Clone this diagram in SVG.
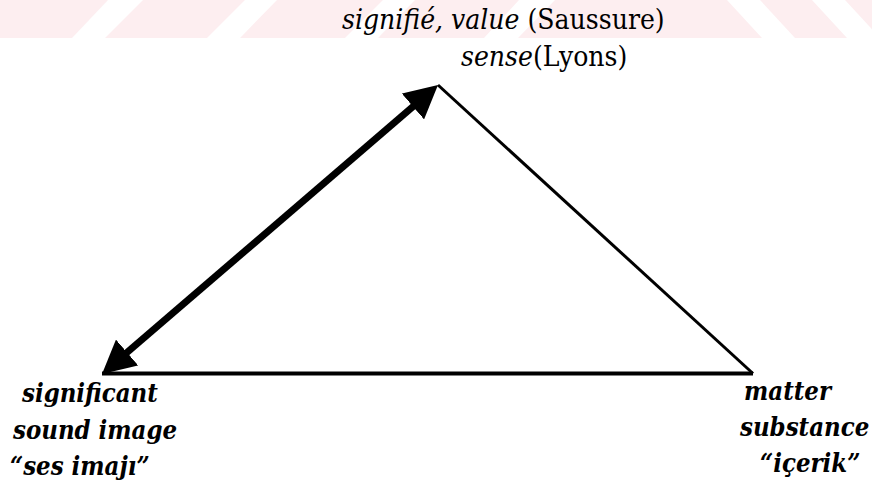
<svg xmlns="http://www.w3.org/2000/svg" width="872" height="487" viewBox="0 0 872 487">
  <style>
    .wm { fill: #fdeef0; }
    .edge { stroke: #000; fill: none; }
    .lbl { font-family: 'DejaVu Serif Condensed', 'DejaVu Serif', serif; fill: #000; }
    .top { font-size: 28px; }
    .bot { font-size: 25.5px; font-style: italic; font-weight: bold; }
    .it { font-style: italic; }
  </style>
  <defs>
    <marker id="head" markerUnits="userSpaceOnUse" viewBox="0 0 33 34" markerWidth="33" markerHeight="34" refX="18" refY="17" orient="auto-start-reverse">
      <path d="M0,0 L33,17 L0,34 Z" fill="#000"/>
    </marker>
  </defs>
  <rect width="872" height="487" fill="#fff"/>
  <g id="watermark">
    <rect class="wm" x="0" y="0" width="872" height="38"/>
    <g fill="#fff">
      <polygon points="108,0 143,0 105,38 72,38"/>
      <polygon points="245,0 277,0 240,38 207,38"/>
      <polygon points="383,0 415,0 378,38 345,38"/>
      <polygon points="519,0 555,0 518,38 484,38"/>
      <polygon points="727,0 760,0 795,38 762,38"/>
      <polygon points="812,0 845,0 880,38 847,38"/>
    </g>
  </g>
  <g id="connectors">
    <line class="edge" x1="102" y1="373.5" x2="753" y2="373.5" stroke-width="4"/>
    <line class="edge" x1="438" y1="85" x2="753" y2="373.5" stroke-width="3"/>
    <line class="edge" x1="113.4" y1="364.2" x2="426.6" y2="94.8" stroke-width="7" marker-start="url(#head)" marker-end="url(#head)"/>
  </g>
  <g id="node-signifie" class="lbl top">
    <text x="342" y="29"><tspan class="it">signifié, value</tspan> (Saussure)</text>
    <text x="461" y="66"><tspan class="it">sense</tspan>(Lyons)</text>
  </g>
  <g id="node-significant" class="lbl bot">
    <text x="22" y="402">significant</text>
    <text x="13" y="439">sound image</text>
    <text x="10" y="475">“ses imajı”</text>
  </g>
  <g id="node-matter" class="lbl bot">
    <text x="744" y="400">matter</text>
    <text x="740" y="436">substance</text>
    <text x="760" y="472">“içerik”</text>
  </g>
</svg>
